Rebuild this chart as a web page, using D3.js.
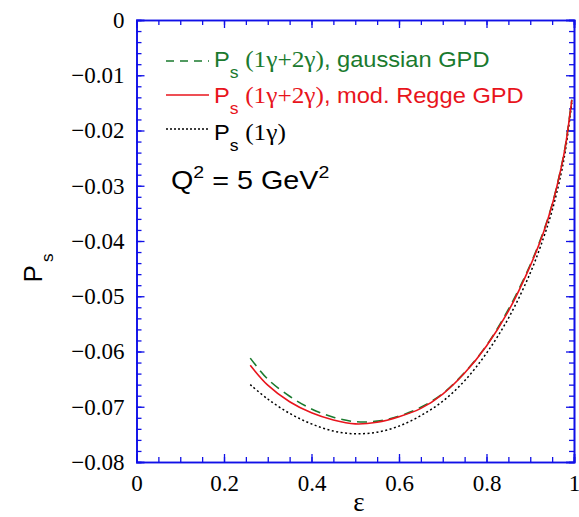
<!DOCTYPE html>
<html><head><meta charset="utf-8">
<script src="https://cdn.jsdelivr.net/npm/d3@7"></script>
<style>body{margin:0;background:#fff}svg{display:block}</style>
</head><body>
<svg id="c" width="579" height="517"></svg>
<script>
const eps = [0.26,0.30,0.35,0.40,0.45,0.50,0.55,0.60,0.65,0.70,0.75,0.80,0.85,0.90,0.93,0.95,0.97,0.98,0.995];
const psGauss = [-0.0612,-0.0650,-0.0681,-0.0704,-0.0719,-0.0727,-0.0726,-0.0717,-0.0701,-0.0676,-0.0638,-0.0589,-0.0524,-0.0443,-0.0383,-0.0334,-0.0269,-0.0229,-0.0144];
const psRegge = [-0.0625,-0.0661,-0.0691,-0.0711,-0.0724,-0.0731,-0.0728,-0.0718,-0.0703,-0.0677,-0.0639,-0.0590,-0.0527,-0.0445,-0.0385,-0.0335,-0.0270,-0.0230,-0.0145];
const ps1g = [-0.0660,-0.0686,-0.0712,-0.0731,-0.0744,-0.0749,-0.0746,-0.0735,-0.0716,-0.0690,-0.0653,-0.0603,-0.0540,-0.0458,-0.0395,-0.0345,-0.0280,-0.0238,-0.0150];
const xTicks = [0,0.2,0.4,0.6,0.8,1];
const yTicks = [0,-0.01,-0.02,-0.03,-0.04,-0.05,-0.06,-0.07,-0.08];
const xMinor = d3.range(0,1.0001,0.05);
const yMinor = d3.range(0,-0.08001,-0.002);

const L=136.5,R=574,T=20,B=462;
const x=d3.scaleLinear().domain([0,1]).range([L,R]);
const y=d3.scaleLinear().domain([-0.08,0]).range([B,T]);
const svg=d3.select("#c");
const axisCol="#1010e8";
const serif="'Liberation Serif','Times New Roman',serif";
const sans="'Liberation Sans',Arial,sans-serif";

function styleAxis(g){g.select(".domain").attr("stroke",axisCol).attr("stroke-width",1.6);
  g.selectAll(".tick line").attr("stroke",axisCol).attr("stroke-width",1.3);
  g.selectAll("text").attr("font-family",serif).attr("font-size",23).attr("fill","#000");}
const xf=d=>d===0?"0":d3.format("")(d);
const yf=d=>d===0?"0":d3.format(".2f")(d);
// minor
svg.append("g").attr("transform",`translate(0,${B})`).call(d3.axisBottom(x).tickValues(xMinor).tickSize(-5).tickFormat("")).call(styleAxis);
svg.append("g").attr("transform",`translate(0,${T})`).call(d3.axisTop(x).tickValues(xMinor).tickSize(-5).tickFormat("")).call(styleAxis);
svg.append("g").attr("transform",`translate(${L},0)`).call(d3.axisLeft(y).tickValues(yMinor).tickSize(-5).tickFormat("")).call(styleAxis);
svg.append("g").attr("transform",`translate(${R},0)`).call(d3.axisRight(y).tickValues(yMinor).tickSize(-5).tickFormat("")).call(styleAxis);
// major
svg.append("g").attr("transform",`translate(0,${B})`).call(d3.axisBottom(x).tickValues(xTicks).tickSize(-8).tickPadding(13).tickFormat(xf)).call(styleAxis);
svg.append("g").attr("transform",`translate(0,${T})`).call(d3.axisTop(x).tickValues(xTicks).tickSize(-8).tickFormat("")).call(styleAxis);
svg.append("g").attr("transform",`translate(${L},0)`).call(d3.axisLeft(y).tickValues(yTicks).tickSize(-8).tickPadding(12).tickFormat(yf)).call(styleAxis);
svg.append("g").attr("transform",`translate(${R},0)`).call(d3.axisRight(y).tickValues(yTicks).tickSize(-8).tickFormat("")).call(styleAxis);

const line=d3.line().x(d=>x(d[0])).y(d=>y(d[1])).curve(d3.curveCatmullRom.alpha(0.5));
const series=[
 {v:ps1g,c:"#000",dash:"2,2.5",w:1.5},
 {v:psGauss,c:"#1a7a2e",dash:"10,6",w:1.6},
 {v:psRegge,c:"#e8141c",dash:null,w:1.6}];
series.forEach(s=>{
 svg.append("path").datum(eps.map((e,i)=>[e,s.v[i]])).attr("d",line).attr("fill","none")
   .attr("stroke",s.c).attr("stroke-width",s.w).attr("stroke-dasharray",s.dash);
});

// legend
const leg=[
 {c:"#1a7a2e",dash:"8,6",w:1.3,ly:61,by:66.5,paren:"(1γ+2γ)",rest:", gaussian GPD"},
 {c:"#e8141c",dash:null,w:1.6,ly:95,by:102.5,paren:"(1γ+2γ)",rest:", mod. Regge GPD"},
 {c:"#000",dash:"2,2",w:1.3,ly:129,by:139.5,paren:"(1γ)",rest:""}];
leg.forEach(l=>{
 svg.append("line").attr("x1",166).attr("x2",209).attr("y1",l.ly).attr("y2",l.ly)
   .attr("stroke",l.c).attr("stroke-width",l.w).attr("stroke-dasharray",l.dash);
 const t=svg.append("text").attr("transform",`translate(214,${l.by}) scale(1.1,1)`).attr("fill",l.c).attr("font-family",sans).attr("font-size",21.5);
 t.append("tspan").text("P");
 t.append("tspan").attr("font-size",16).attr("dy",11).text("s");
 t.append("tspan").attr("dy",-11).attr("font-family",serif).attr("font-size",23).attr("dx",6).text(l.paren);
 if(l.rest) t.append("tspan").text(l.rest);
});
const q=svg.append("text").attr("transform","translate(171,189) scale(1.15,1)").attr("font-family",sans).attr("font-size",25).attr("fill","#000");
q.append("tspan").text("Q");
q.append("tspan").attr("font-size",17).attr("dy",-11).text("2");
q.append("tspan").attr("dy",11).text(" = 5 GeV");
q.append("tspan").attr("font-size",17).attr("dy",-11).text("2");

// axis labels
svg.append("text").attr("x",359).attr("y",511).attr("text-anchor","middle").attr("font-family",serif).attr("font-size",27).text("ε");
const yl=svg.append("text").attr("transform","translate(42,268) rotate(-90)").attr("text-anchor","middle").attr("font-family",sans).attr("font-size",26);
yl.append("tspan").text("P");
yl.append("tspan").attr("font-size",17).attr("dy",11).attr("dx",3).text("s");
</script>
</body></html>
